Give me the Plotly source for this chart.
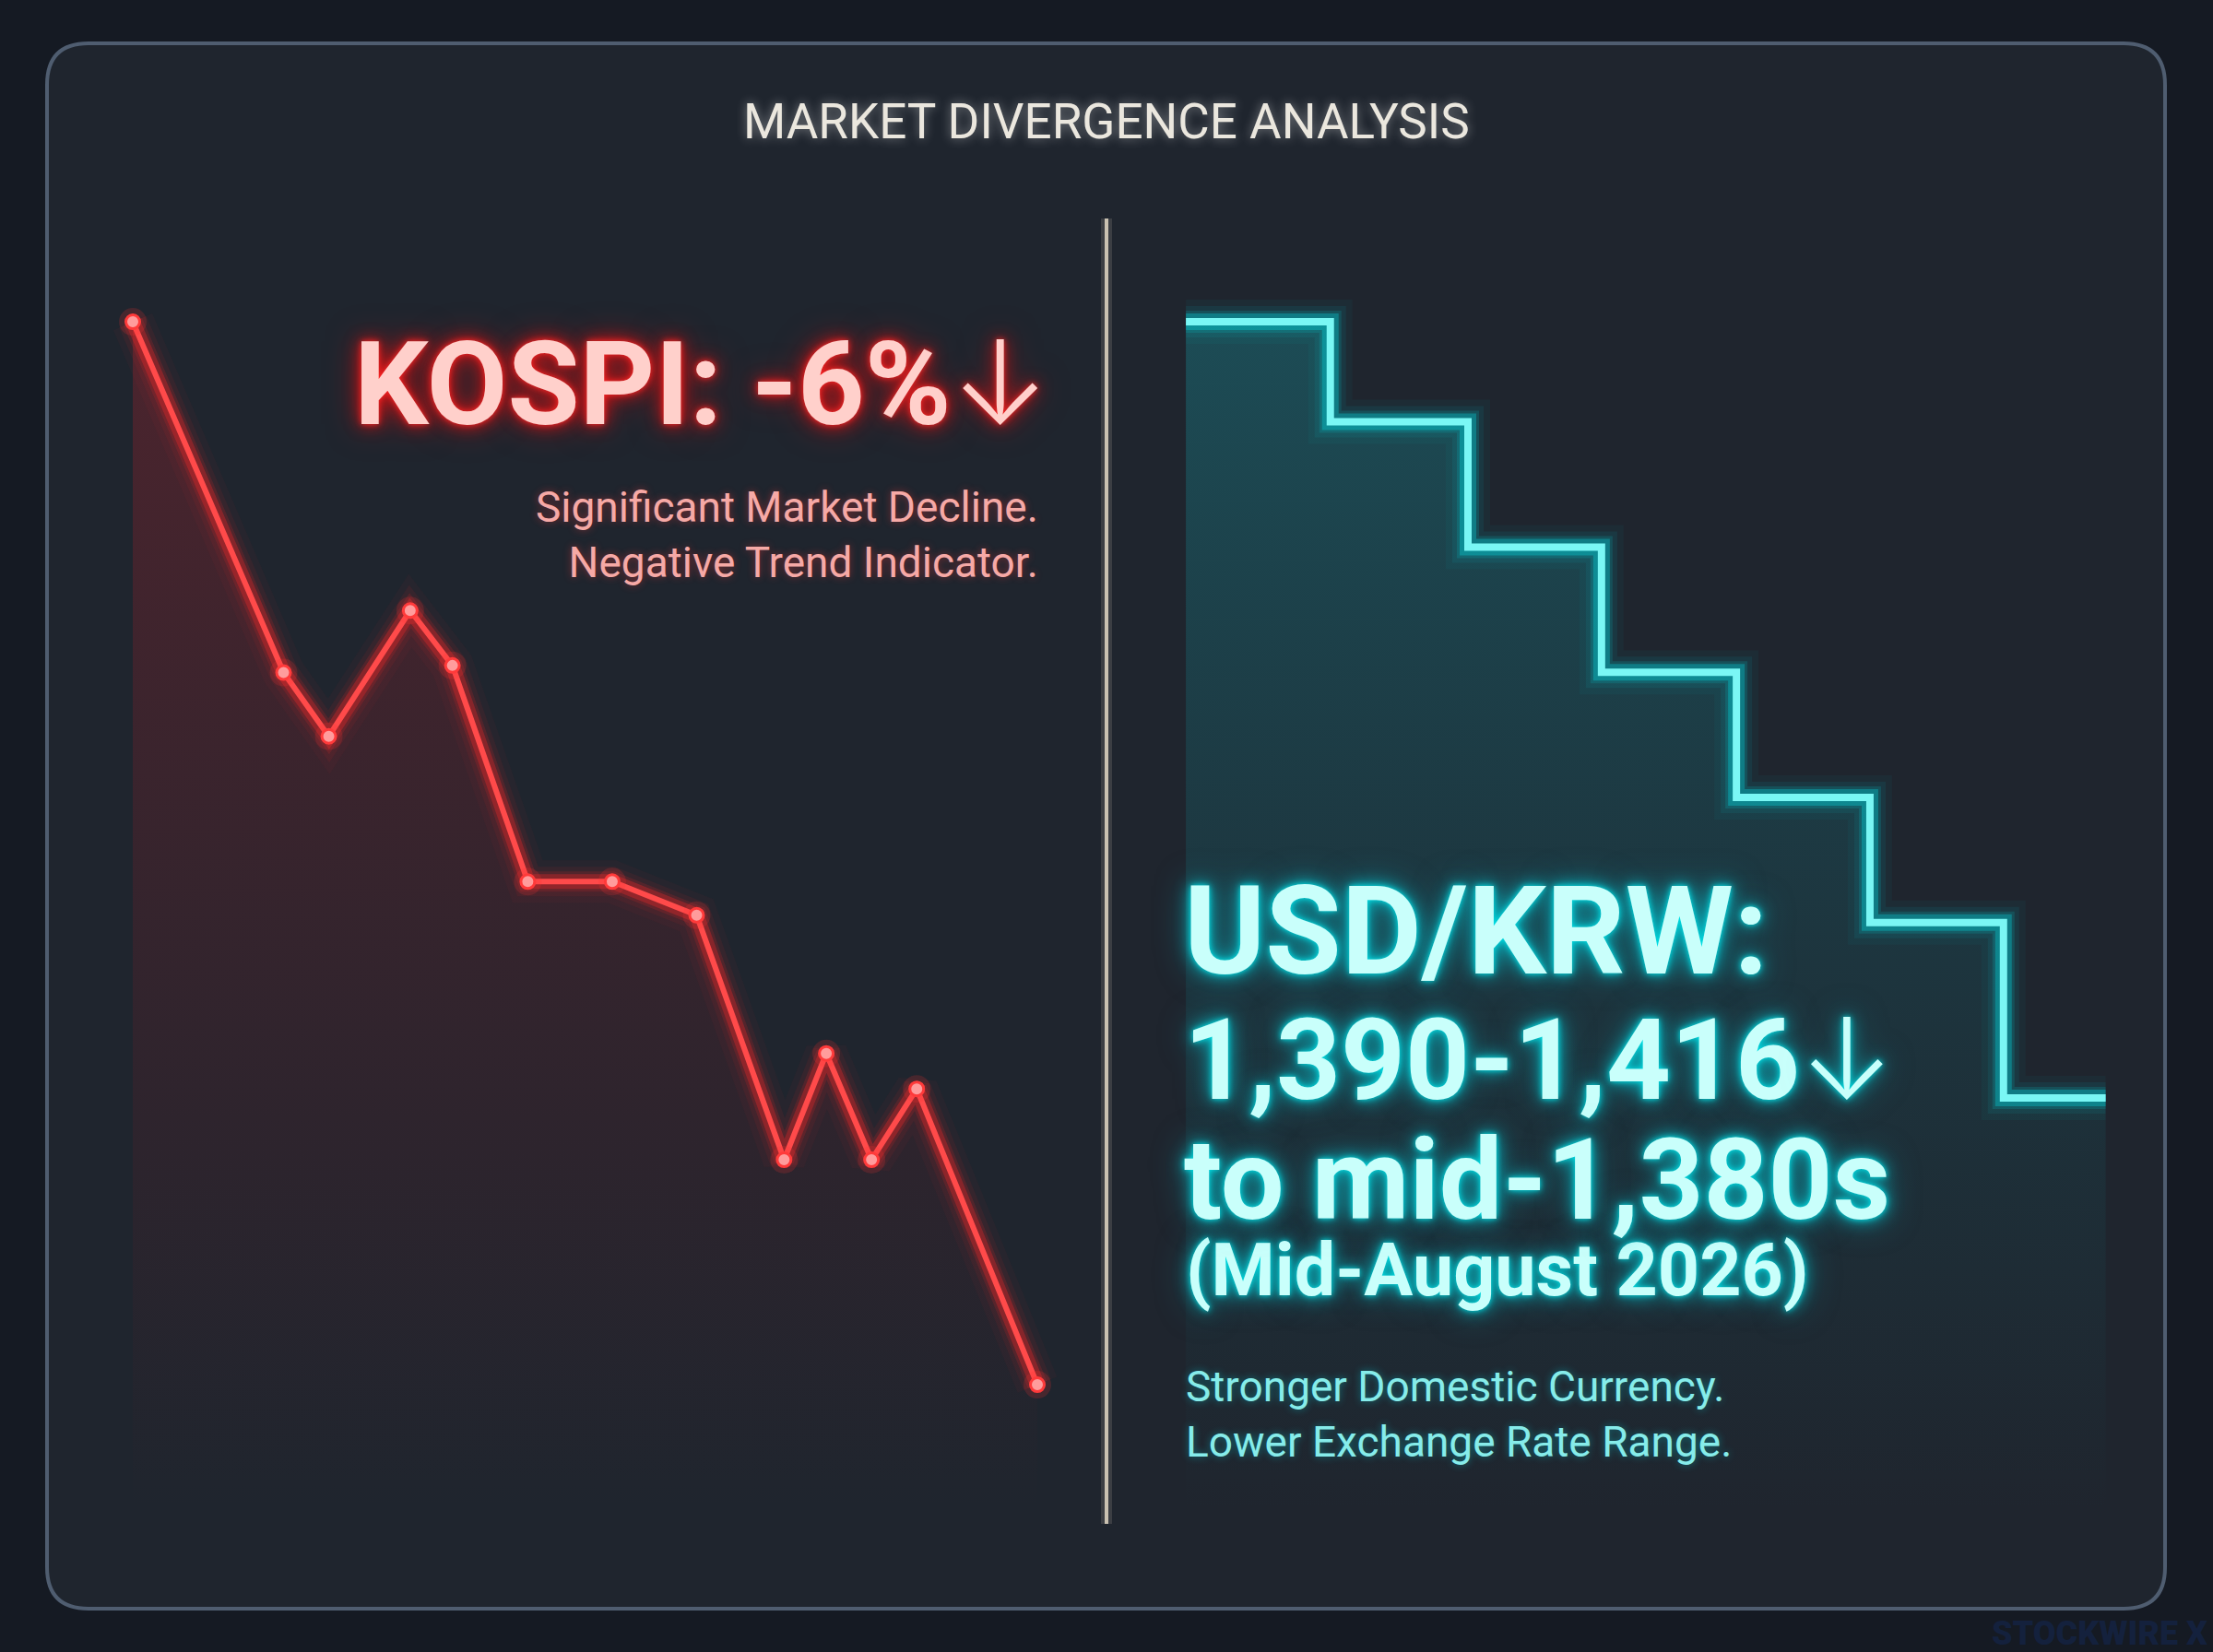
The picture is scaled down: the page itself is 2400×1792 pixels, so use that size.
import plotly.graph_objects as go

W, H = 2400, 1792

# KOSPI path: trading day vs index level (start = 100)
kospi_days = [0, 5, 6.5, 9.2, 10.6, 13.1, 15.9, 18.7, 21.6, 23, 24.5, 26, 30]
kospi_level = [100.0, 98.02, 97.66, 98.37, 98.06, 96.84, 96.84, 96.65, 95.27, 95.87, 95.27, 95.67, 94.0]

# USD/KRW step path: week vs won per dollar
krw_weeks = [0, 1.06, 2.07, 3.05, 4.04, 5.02, 6.0, 6.75]
krw_rate = [1416, 1412, 1407, 1402, 1397, 1392, 1385, 1385]

title_text = "MARKET DIVERGENCE ANALYSIS"
kospi_head = "KOSPI: -6%"
kospi_notes = ["Significant Market Decline.", "Negative Trend Indicator."]
krw_head = ["USD/KRW:", "1,390-1,416", "to mid-1,380s"]
krw_period = "(Mid-August 2026)"
krw_notes = ["Stronger Domestic Currency.", "Lower Exchange Rate Range."]
brand = "STOCKWIRE X"
ARROW = "<span style='font-weight:300'>↓</span>"


def px(x):
    return x / W


def py(y):
    return 1 - y / H


def add_glow(fig, x, y, rgb, core_color, core_width, shape, xa, ya):
    for w, a in [(40, 0.04), (26, 0.07), (16, 0.14), (10, 0.3)]:
        fig.add_trace(go.Scatter(
            x=x, y=y, mode="lines", xaxis=xa, yaxis=ya,
            line=dict(color=f"rgba({rgb},{a})", width=w + core_width, shape=shape),
            hoverinfo="skip", showlegend=False))
    fig.add_trace(go.Scatter(
        x=x, y=y, mode="lines", xaxis=xa, yaxis=ya,
        line=dict(color=core_color, width=core_width, shape=shape),
        hoverinfo="skip", showlegend=False))


fig = go.Figure()

# area fills
fig.add_trace(go.Scatter(
    x=kospi_days, y=kospi_level, mode="none", fill="tozeroy", xaxis="x", yaxis="y",
    fillgradient=dict(type="vertical", start=93.3, stop=100,
                      colorscale=[[0, "rgba(130,30,40,0)"], [0.3, "rgba(130,30,40,0.14)"],
                                  [1, "rgba(150,35,45,0.38)"]]),
    hoverinfo="skip", showlegend=False))
fig.add_trace(go.Scatter(
    x=krw_weeks, y=krw_rate, mode="none", fill="tozeroy", xaxis="x2", yaxis="y2",
    line=dict(shape="hv"),
    fillgradient=dict(type="vertical", start=1368.5, stop=1416,
                      colorscale=[[0, "rgba(20,110,120,0)"], [0.3, "rgba(20,110,120,0.14)"],
                                  [1, "rgba(25,130,140,0.42)"]]),
    hoverinfo="skip", showlegend=False))

# glowing lines
add_glow(fig, kospi_days, kospi_level, "255,40,40", "#ff4a4a", 6, "linear", "x", "y")
fig.add_trace(go.Scatter(
    x=kospi_days, y=kospi_level, mode="markers", xaxis="x", yaxis="y",
    marker=dict(size=30, color="rgba(255,50,50,0.18)"),
    hoverinfo="skip", showlegend=False))
fig.add_trace(go.Scatter(
    x=kospi_days, y=kospi_level, mode="markers", xaxis="x", yaxis="y",
    marker=dict(size=15, color="#ff9c9c", line=dict(color="#ff3a3a", width=3)),
    hoverinfo="skip", showlegend=False))

add_glow(fig, krw_weeks, krw_rate, "0,230,235", "#7af7f5", 8, "hv", "x2", "y2")

# panel and divider
x0, y0, x1, y1, r = 51, 47, 2348, 1745, 45
panel = (f"M {px(x0 + r)},{py(y0)} L {px(x1 - r)},{py(y0)} Q {px(x1)},{py(y0)} {px(x1)},{py(y0 + r)} "
         f"L {px(x1)},{py(y1 - r)} Q {px(x1)},{py(y1)} {px(x1 - r)},{py(y1)} "
         f"L {px(x0 + r)},{py(y1)} Q {px(x0)},{py(y1)} {px(x0)},{py(y1 - r)} "
         f"L {px(x0)},{py(y0 + r)} Q {px(x0)},{py(y0)} {px(x0 + r)},{py(y0)} Z")
shapes = [
    dict(type="path", path=panel, xref="paper", yref="paper", layer="below",
         fillcolor="#1f252e", line=dict(color="#4f5d70", width=4)),
    dict(type="line", xref="paper", yref="paper", x0=px(1200), x1=px(1200), y0=py(237), y1=py(1653),
         layer="below", line=dict(color="rgba(220,210,190,0.15)", width=12)),
    dict(type="line", xref="paper", yref="paper", x0=px(1200), x1=px(1200), y0=py(237), y1=py(1653),
         layer="below", line=dict(color="#c9c1b1", width=4)),
]

red_glow = "0 0 6px rgba(255,40,40,1), 0 0 18px rgba(255,20,20,0.85), 0 0 36px rgba(255,0,0,0.5)"
cyan_glow = "0 0 6px rgba(0,230,235,1), 0 0 18px rgba(0,220,230,0.8), 0 0 36px rgba(0,200,220,0.5)"
BASE = "Roboto, Inter, DejaVu Sans, sans-serif"

annotations = [
    dict(text=title_text, x=px(1200), y=py(132), xanchor="center", yanchor="middle",
         font=dict(family=BASE, size=53, color="#ebe7de",
                   shadow="0 0 12px rgba(255,255,255,0.45)")),
    dict(text=kospi_head + ARROW, x=px(1140), y=py(416), xanchor="right", yanchor="middle",
         font=dict(family=BASE, size=127, color="#ffd0cb", weight=700, shadow=red_glow)),
    dict(text="<br>".join(kospi_notes), x=px(1128), y=py(580), xanchor="right", yanchor="middle",
         align="right", font=dict(family=BASE, size=46, color="#f6a9a6",
                                  shadow="0 0 8px rgba(255,60,60,0.45)")),
    dict(text=krw_period, x=px(1284), y=py(1378), xanchor="left", yanchor="middle",
         font=dict(family=BASE, size=79, color="#c9fffb", weight=700, shadow=cyan_glow)),
    dict(text="<br>".join(krw_notes), x=px(1284), y=py(1534), xanchor="left", yanchor="middle",
         align="left", font=dict(family=BASE, size=46, color="#86ecea",
                                 shadow="0 0 8px rgba(0,220,230,0.45)")),
    dict(text=brand, x=px(2396), y=py(1772), xanchor="right", yanchor="middle",
         font=dict(family=BASE, size=36, color="#14213d", weight=900)),
]
for line, yc, size in zip([krw_head[0], krw_head[1] + ARROW, krw_head[2]],
                          [1010, 1150, 1280], [134, 122, 122]):
    annotations.append(dict(text=line, x=px(1282), y=py(yc), xanchor="left", yanchor="middle",
                            font=dict(family=BASE, size=size, color="#c9fffb", weight=700,
                                      shadow=cyan_glow)))
for a in annotations:
    a.update(xref="paper", yref="paper", showarrow=False)

hidden = dict(visible=False, showgrid=False, zeroline=False, fixedrange=True)
fig.update_layout(
    width=W, height=H, margin=dict(l=0, r=0, t=0, b=0),
    paper_bgcolor="#151a23", plot_bgcolor="rgba(0,0,0,0)",
    xaxis=dict(domain=[0.04638, 0.48238], range=[-1, 31], **hidden),
    yaxis=dict(domain=[0.085, 0.848], range=[93.284, 100.399], **hidden),
    xaxis2=dict(domain=[0.5174, 0.9669], range=[-0.3, 7.0], anchor="y2", **hidden),
    yaxis2=dict(domain=[0.085, 0.848], range=[1368.48, 1418.82], anchor="x2", **hidden),
    shapes=shapes, annotations=annotations, showlegend=False,
)

fig.write_html("out.html", config={"displayModeBar": False},
               post_script="document.body.style.margin='0';")
